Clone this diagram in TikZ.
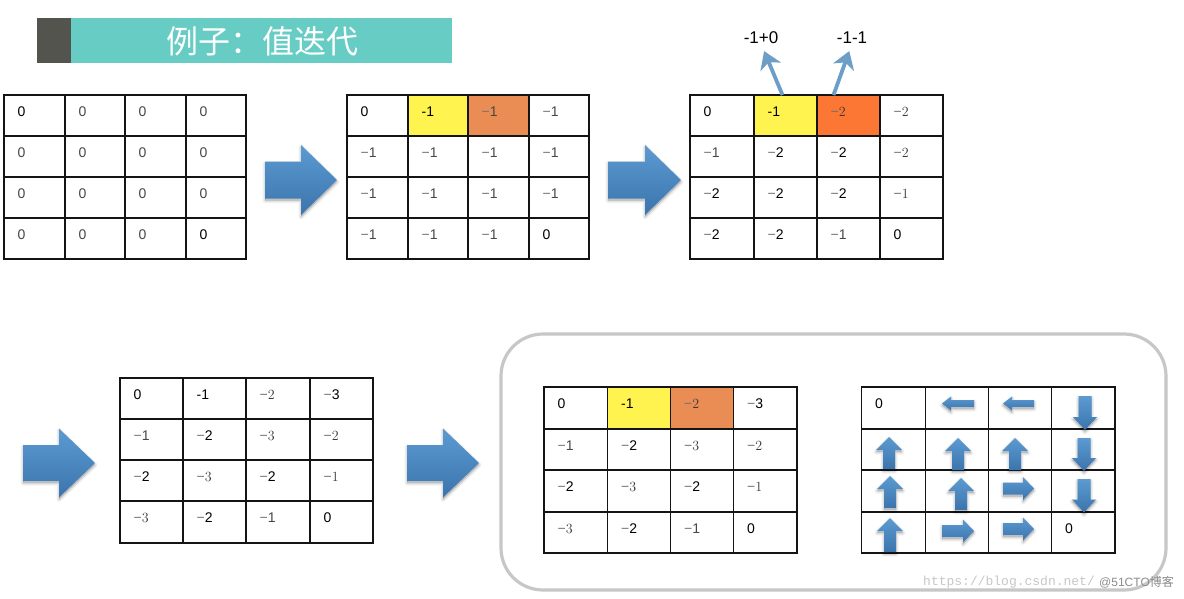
\documentclass[tikz,border=0pt]{standalone}
\usepackage{fontspec}
\setsansfont{Liberation Sans}
\newfontfamily\cjkfont{Noto Sans CJK SC}
\newfontfamily\wmfont{Liberation Mono}
\usetikzlibrary{arrows.meta,calc}
\definecolor{teal1}{HTML}{66CCC4}
\definecolor{dark1}{HTML}{54544E}
\definecolor{w}{HTML}{FFFFFF}
\definecolor{y}{HTML}{FFF44F}
\definecolor{o}{HTML}{EA8D55}
\definecolor{r}{HTML}{FB7733}
\definecolor{arrtop}{HTML}{5B9BD2}
\definecolor{arrbot}{HTML}{3C74AC}
\definecolor{thinarr}{HTML}{6C9EC8}
\newcommand\mn{\textcolor{black!55}{\sffamily −}}
\tikzset{
  x=1pt,y=-1pt,
  cellbox/.style={draw=black!92,line width=1.7pt,inner sep=0pt,outer sep=0pt,anchor=north west},
  tx-a/.style={anchor=west,inner sep=0pt,text=black,font=\sffamily\fontsize{14}{16}\selectfont},
  tx-k/.style={tx-a},
  tx-m/.style={tx-a,text=black!72},
  tx-g/.style={anchor=west,inner sep=0pt,text=black!78,font=\rmfamily\fontsize{14}{16}\selectfont},
  toplabel/.style={inner sep=0pt,text=black,font=\sffamily\fontsize{17}{20}\selectfont},
  thin arrow/.style={draw=thinarr,line width=3.8pt,-{Stealth[length=17pt,width=22pt,inset=5pt]}},
  arrshadow/.style={fill=black,draw=black,line join=round,opacity=0.05},
  panel/.style={draw=black!22,line width=3.2pt,rounded corners=42pt},
  wm/.style={inner sep=0pt,text=black!22,font=\wmfont\fontsize{13}{15}\selectfont},
}
\newcommand\barrow[1]{%
  \fill[arrshadow,line width=5pt,shift={(0,2)}] #1;
  \fill[arrshadow,line width=3pt,shift={(0,2)}] #1;
  \fill[arrshadow,line width=1pt,shift={(0,2)}] #1;
  \shade[top color=arrtop,bottom color=arrbot] #1;}
% x0 tail/left, x1 right, yc, shaft width, head width, head length
\newcommand\arrR[6]{\barrow{({#1},{#3-#4/2}) -- ({#2-#6},{#3-#4/2}) -- ({#2-#6},{#3-#5/2}) -- ({#2},{#3}) -- ({#2-#6},{#3+#5/2}) -- ({#2-#6},{#3+#4/2}) -- ({#1},{#3+#4/2}) -- cycle}}
\newcommand\arrL[6]{\barrow{({#2},{#3-#4/2}) -- ({#1+#6},{#3-#4/2}) -- ({#1+#6},{#3-#5/2}) -- ({#1},{#3}) -- ({#1+#6},{#3+#5/2}) -- ({#1+#6},{#3+#4/2}) -- ({#2},{#3+#4/2}) -- cycle}}
% y0 top, y1 bottom, xc, shaft width, head width, head length
\newcommand\arrU[6]{\barrow{({#3-#4/2},{#2}) -- ({#3-#4/2},{#1+#6}) -- ({#3-#5/2},{#1+#6}) -- ({#3},{#1}) -- ({#3+#5/2},{#1+#6}) -- ({#3+#4/2},{#1+#6}) -- ({#3+#4/2},{#2}) -- cycle}}
\newcommand\arrD[6]{\barrow{({#3-#4/2},{#1}) -- ({#3-#4/2},{#2-#6}) -- ({#3-#5/2},{#2-#6}) -- ({#3},{#2}) -- ({#3+#5/2},{#2-#6}) -- ({#3+#4/2},{#2-#6}) -- ({#3+#4/2},{#1}) -- cycle}}
% name, x-array, y-array, entries style/text/fill
\newcommand\cellgrid[4]{%
  \foreach \sty/\txt/\fc [count=\i from 0] in {#4}{%
    \pgfmathtruncatemacro\cc{mod(\i,4)}%
    \pgfmathtruncatemacro\rr{int(\i/4)}%
    \pgfmathsetmacro\xa{#2[\cc]}%
    \pgfmathsetmacro\xb{#2[\cc+1]}%
    \pgfmathsetmacro\ya{#3[\rr]}%
    \pgfmathsetmacro\yb{#3[\rr+1]}%
    \node[cellbox,fill=\fc,minimum width={(\xb-\xa)*1pt},minimum height={(\yb-\ya)*1pt}] (#1-\i) at (\xa,\ya) {};
    \node[tx-\sty] (#1-\i-t) at ($(#1-\i.north west)+(13.5,16.7)$) {\txt};
  }%
}
\begin{document}
\begin{tikzpicture}
\useasboundingbox (0,0) rectangle (1184,598);
\fill[white] (0,0) rectangle (1184,598);
% title
\fill[dark1] (37,18) rectangle (71,63);
\fill[teal1] (71,18) rectangle (452,63);
\node[inner sep=0pt,text=white,font=\cjkfont\fontsize{32}{36}\selectfont] (title) at (262,41.5) {例子：值迭代};
% panel
\draw[panel] (501,334) rectangle (1166,590);
% grids
\cellgrid{A}{{4,65,125,186,246}}{{95,136,177,218,259}}{
 a/0/w,m/0/w,m/0/w,m/0/w,
 m/0/w,m/0/w,m/0/w,m/0/w,
 m/0/w,m/0/w,m/0/w,m/0/w,
 m/0/w,m/0/w,m/0/w,a/0/w}
\cellgrid{B}{{347,408,468,529,589}}{{95,136,177,218,259}}{
 a/0/w,a/-1/y,m/\mn1/o,m/\mn1/w,
 m/\mn1/w,m/\mn1/w,m/\mn1/w,m/\mn1/w,
 m/\mn1/w,m/\mn1/w,m/\mn1/w,m/\mn1/w,
 m/\mn1/w,m/\mn1/w,m/\mn1/w,a/0/w}
\cellgrid{C}{{690,754,817,880,943}}{{95,136,177,218,259}}{
 a/0/w,a/-1/y,g/\mn2/r,g/\mn2/w,
 m/\mn1/w,k/\mn2/w,k/\mn2/w,g/\mn2/w,
 k/\mn2/w,k/\mn2/w,k/\mn2/w,g/\mn1/w,
 k/\mn2/w,k/\mn2/w,m/\mn1/w,a/0/w}
\cellgrid{D}{{120,183,246,310,373}}{{378,419,460,501,543}}{
 a/0/w,a/-1/w,g/\mn2/w,k/\mn3/w,
 m/\mn1/w,k/\mn2/w,g/\mn3/w,g/\mn2/w,
 k/\mn2/w,g/\mn3/w,k/\mn2/w,g/\mn1/w,
 g/\mn3/w,k/\mn2/w,m/\mn1/w,a/0/w}
\cellgrid{E}{{544,607.5,670.5,733.5,797}}{{387,429,470,512,553}}{
 a/0/w,a/-1/y,g/\mn2/o,k/\mn3/w,
 m/\mn1/w,k/\mn2/w,g/\mn3/w,g/\mn2/w,
 k/\mn2/w,g/\mn3/w,k/\mn2/w,g/\mn1/w,
 g/\mn3/w,k/\mn2/w,m/\mn1/w,a/0/w}
\cellgrid{F}{{861.5,925.5,988.5,1051.5,1115}}{{387,429,470,512,553}}{
 a/0/w,a/{}/w,a/{}/w,a/{}/w,
 a/{}/w,a/{}/w,a/{}/w,a/{}/w,
 a/{}/w,a/{}/w,a/{}/w,a/{}/w,
 a/{}/w,a/{}/w,a/{}/w,a/0/w}
% top labels and their arrows
\node[toplabel] (l1) at (761,37.5) {-1+0};
\node[toplabel] (l2) at (852,37.5) {-1-1};
\draw[thin arrow,shorten >=8pt] ([xshift=-3pt]C-1.north) -- (l1.south);
\draw[thin arrow,shorten >=8pt] ([xshift=16.5pt]C-2.north west) -- (l2.south);
% big arrows
\arrR{265}{337}{180}{37}{70}{36}
\arrR{608}{681}{180}{37}{70}{36}
\arrR{23}{95}{463}{36}{69}{36}
\arrR{407}{479}{463}{36}{69}{36}
% arrows in the policy grid
\arrL{942}{974}{403.5}{7}{14}{9}
\arrL{1003}{1034}{403.5}{7}{14}{9}
\arrD{396}{430}{1085}{13}{24}{13}
\arrU{437}{469}{889}{12}{26}{13}
\arrU{438}{470}{958}{12}{26}{13}
\arrU{438}{470}{1015}{12}{26}{13}
\arrD{438}{471}{1084}{13}{24}{13}
\arrU{476}{508}{890}{12}{26}{13}
\arrU{478}{510}{961}{12}{26}{13}
\arrR{1003}{1034}{488.5}{12}{23}{11}
\arrD{479}{512.5}{1084}{13}{24}{13}
\arrU{518}{552}{890}{12}{26}{13}
\arrR{942}{974}{531}{12}{23}{11}
\arrR{1003}{1034}{529}{12}{23}{11}
% watermark
\node[wm,anchor=west] (wm1) at (923,582) {https://blog.csdn.net/};
\node[inner sep=0pt,anchor=west,text=black!45,font=\sffamily\fontsize{12}{14}\selectfont] (wm2) at (1099,582) {@51CTO\cjkfont 博客};
\end{tikzpicture}
\end{document}
